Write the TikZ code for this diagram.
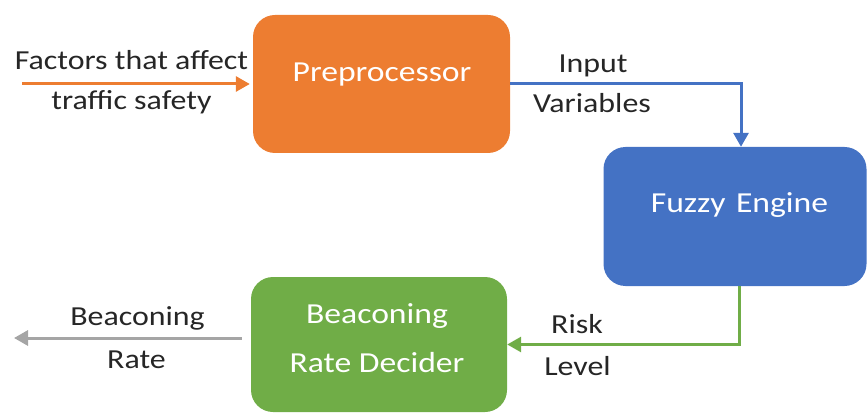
\documentclass[tikz,border=0pt]{standalone}
\usepackage{fontspec}
\setmainfont{Carlito}[FakeStretch=1.16]
\usetikzlibrary{arrows.meta,calc}
\definecolor{corange}{HTML}{ED7D31}
\definecolor{cblue}{HTML}{4472C4}
\definecolor{cgreen}{HTML}{70AD47}
\definecolor{cgray}{HTML}{A5A5A5}
\definecolor{ctext}{HTML}{262626}
\tikzset{
  box/.style={rounded corners=22pt, inner sep=0pt},
  btxt/.style={text=white, anchor=base, inner sep=0pt, font=\fontsize{29}{40}\selectfont},
  lbl/.style={text=ctext, anchor=base, inner sep=0pt, font=\fontsize{27.5}{39}\selectfont},
  conn/.style={line width=3pt, -{Triangle[length=14pt,width=15pt]}}
}
\begin{document}
\begin{tikzpicture}[x=1pt,y=-1pt]
\useasboundingbox (0,0) rectangle (867,414);
\node[box, fill=corange, minimum width=257pt, minimum height=138pt] (pre) at (381.5,84) {};
\node[box, fill=cblue, minimum width=263pt, minimum height=139pt] (fz) at (735,216.5) {};
\node[box, fill=cgreen, minimum width=256pt, minimum height=135pt] (bd) at (379,344.5) {};
\node[btxt] (pret) at (382,82) {Preprocessor};
\node[btxt] (fzt) at (739.5,213) {Fuzzy\hspace{3pt} Engine};
\node[btxt] (bdt1) at (377,323) {Beaconing};
\node[btxt] (bdt2) at (377,372) {Rate Decider};
\coordinate (in) at (22,84);
\coordinate (out) at (14,338);
\draw[conn, draw=corange, shorten >=3pt] (in) -- (pre.west);
\draw[conn, draw=cblue] (pre.east) -| ([xshift=6pt]fz.north);
\draw[conn, draw=cgreen] ([xshift=4pt]fz.south) |- (bd.east);
\draw[conn, draw=cgray, shorten <=9pt] ([yshift=6.5pt]bd.west) -- (out);
\node[lbl] (l1) at (131.5,70) {Factors that affect};
\node[lbl] (l2) at (131.5,110) {traffic safety};
\node[lbl] (l3) at (593,73) {Input};
\node[lbl] (l4) at (592,113) {Variables};
\node[lbl] (l5) at (577,333) {Risk};
\node[lbl] (l6) at (577.5,375) {Level};
\node[lbl] (l7) at (137.5,325) {Beaconing};
\node[lbl] (l8) at (136.5,368) {Rate};
\end{tikzpicture}
\end{document}
